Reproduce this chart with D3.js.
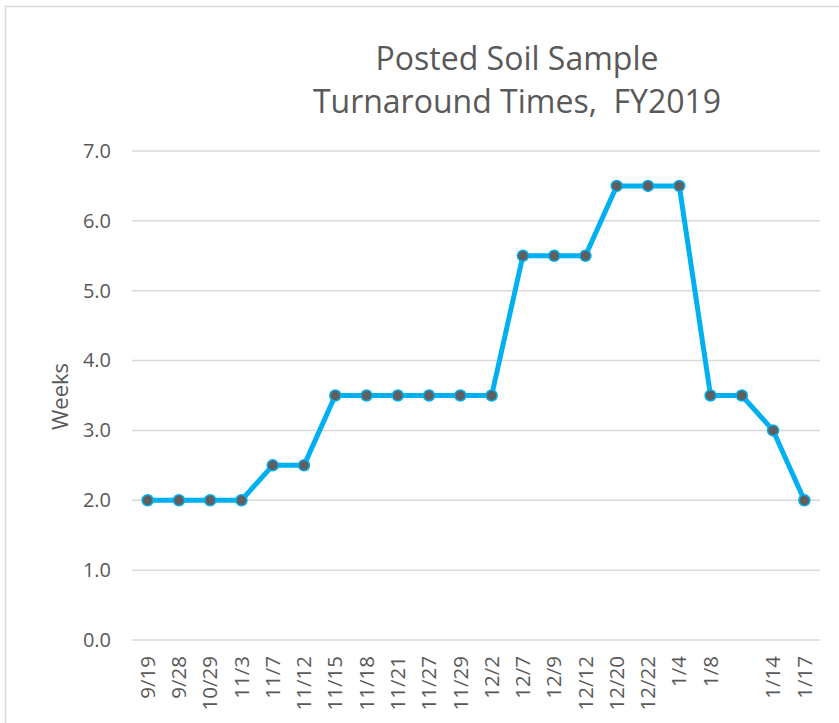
<!DOCTYPE html>
<html>
<head>
<meta charset="utf-8">
<script src="https://cdn.jsdelivr.net/npm/d3@7.8.5/dist/d3.min.js"></script>
<style>
  body { margin: 0; background: #fff; }
  svg { display: block; font-family: "Open Sans", "Noto Sans", sans-serif; }
</style>
</head>
<body>
<svg id="chart" width="839" height="723"></svg>
<script>
// week labels (the 20th slot has no label in the original)
const dates = ["9/19", "9/28", "10/29", "11/3", "11/7", "11/12", "11/15", "11/18",
  "11/21", "11/27", "11/29", "12/2", "12/7", "12/9", "12/12", "12/20", "12/22",
  "1/4", "1/8", "", "1/14", "1/17"];
const weeks = [2.0, 2.0, 2.0, 2.0, 2.5, 2.5, 3.5, 3.5, 3.5, 3.5, 3.5, 3.5,
  5.5, 5.5, 5.5, 6.5, 6.5, 6.5, 3.5, 3.5, 3.0, 2.0];
const yTicks = [0, 1, 2, 3, 4, 5, 6, 7];

const width = 839, height = 723;
const margin = { top: 151, right: 20, bottom: 83, left: 132 };

const svg = d3.select("#chart");

// chart frame
svg.append("rect")
  .attr("x", 5.5).attr("y", 6.5)
  .attr("width", 860).attr("height", 740)
  .attr("fill", "none")
  .attr("stroke", "#d9d9d9")
  .attr("stroke-width", 1.5);

const keys = dates.map((d, i) => i);
const x = d3.scaleBand()
  .domain(keys)
  .range([margin.left, width - margin.right + 1]);

const y = d3.scaleLinear()
  .domain([0, 7])
  .range([height - margin.bottom, margin.top]);

// gridlines
svg.append("g")
  .selectAll("line")
  .data(yTicks)
  .join("line")
  .attr("x1", margin.left)
  .attr("x2", width - margin.right + 1)
  .attr("y1", d => y(d))
  .attr("y2", d => y(d))
  .attr("stroke", "#d9d9d9")
  .attr("stroke-width", 1.5);

// y axis labels
const yAxis = svg.append("g")
  .attr("transform", `translate(${margin.left - 21},0)`)
  .call(d3.axisLeft(y).tickValues(yTicks).tickFormat(d3.format(".1f")).tickSize(0).tickPadding(0));
yAxis.select(".domain").remove();
yAxis.selectAll("text")
  .attr("fill", "#595959")
  .attr("font-size", 20)
  .attr("font-family", "Open Sans, sans-serif");

// x axis labels
const xAxis = svg.append("g")
  .attr("transform", `translate(0,${height - margin.bottom})`)
  .call(d3.axisBottom(x).tickFormat(i => dates[i]).tickSize(0));
xAxis.select(".domain").remove();
xAxis.selectAll("text")
  .attr("fill", "#595959")
  .attr("font-size", 20.5)
  .attr("font-family", "Open Sans, sans-serif")
  .attr("transform", "rotate(-90)")
  .attr("text-anchor", "end")
  .attr("x", -16)
  .attr("y", 0)
  .attr("dy", "0.35em");

// axis title
svg.append("text")
  .attr("transform", `translate(68,${(y(0) + y(7)) / 2 + 1}) rotate(-90)`)
  .attr("text-anchor", "middle")
  .attr("fill", "#595959")
  .attr("font-size", 22)
  .text("Weeks");

// chart title
const title = svg.append("text")
  .attr("text-anchor", "middle")
  .attr("fill", "#595959")
  .attr("font-size", 32);
title.append("tspan").attr("x", 517).attr("y", 70).text("Posted Soil Sample");
title.append("tspan").attr("x", 517).attr("y", 113).text("Turnaround Times,  FY2019")
  .attr("xml:space", "preserve");

const cx = i => x(i) + x.bandwidth() / 2;

// line
const line = d3.line()
  .x((d, i) => cx(i))
  .y(d => y(d));

svg.append("path")
  .datum(weeks)
  .attr("d", line)
  .attr("fill", "none")
  .attr("stroke", "#00b0f0")
  .attr("stroke-width", 5)
  .attr("stroke-linejoin", "round");

// markers
svg.append("g")
  .selectAll("circle")
  .data(weeks)
  .join("circle")
  .attr("cx", (d, i) => cx(i))
  .attr("cy", d => y(d))
  .attr("r", 5.5)
  .attr("fill", "#5f5f5f")
  .attr("stroke", "#00b0f0")
  .attr("stroke-width", 1.5);
</script>
</body>
</html>
